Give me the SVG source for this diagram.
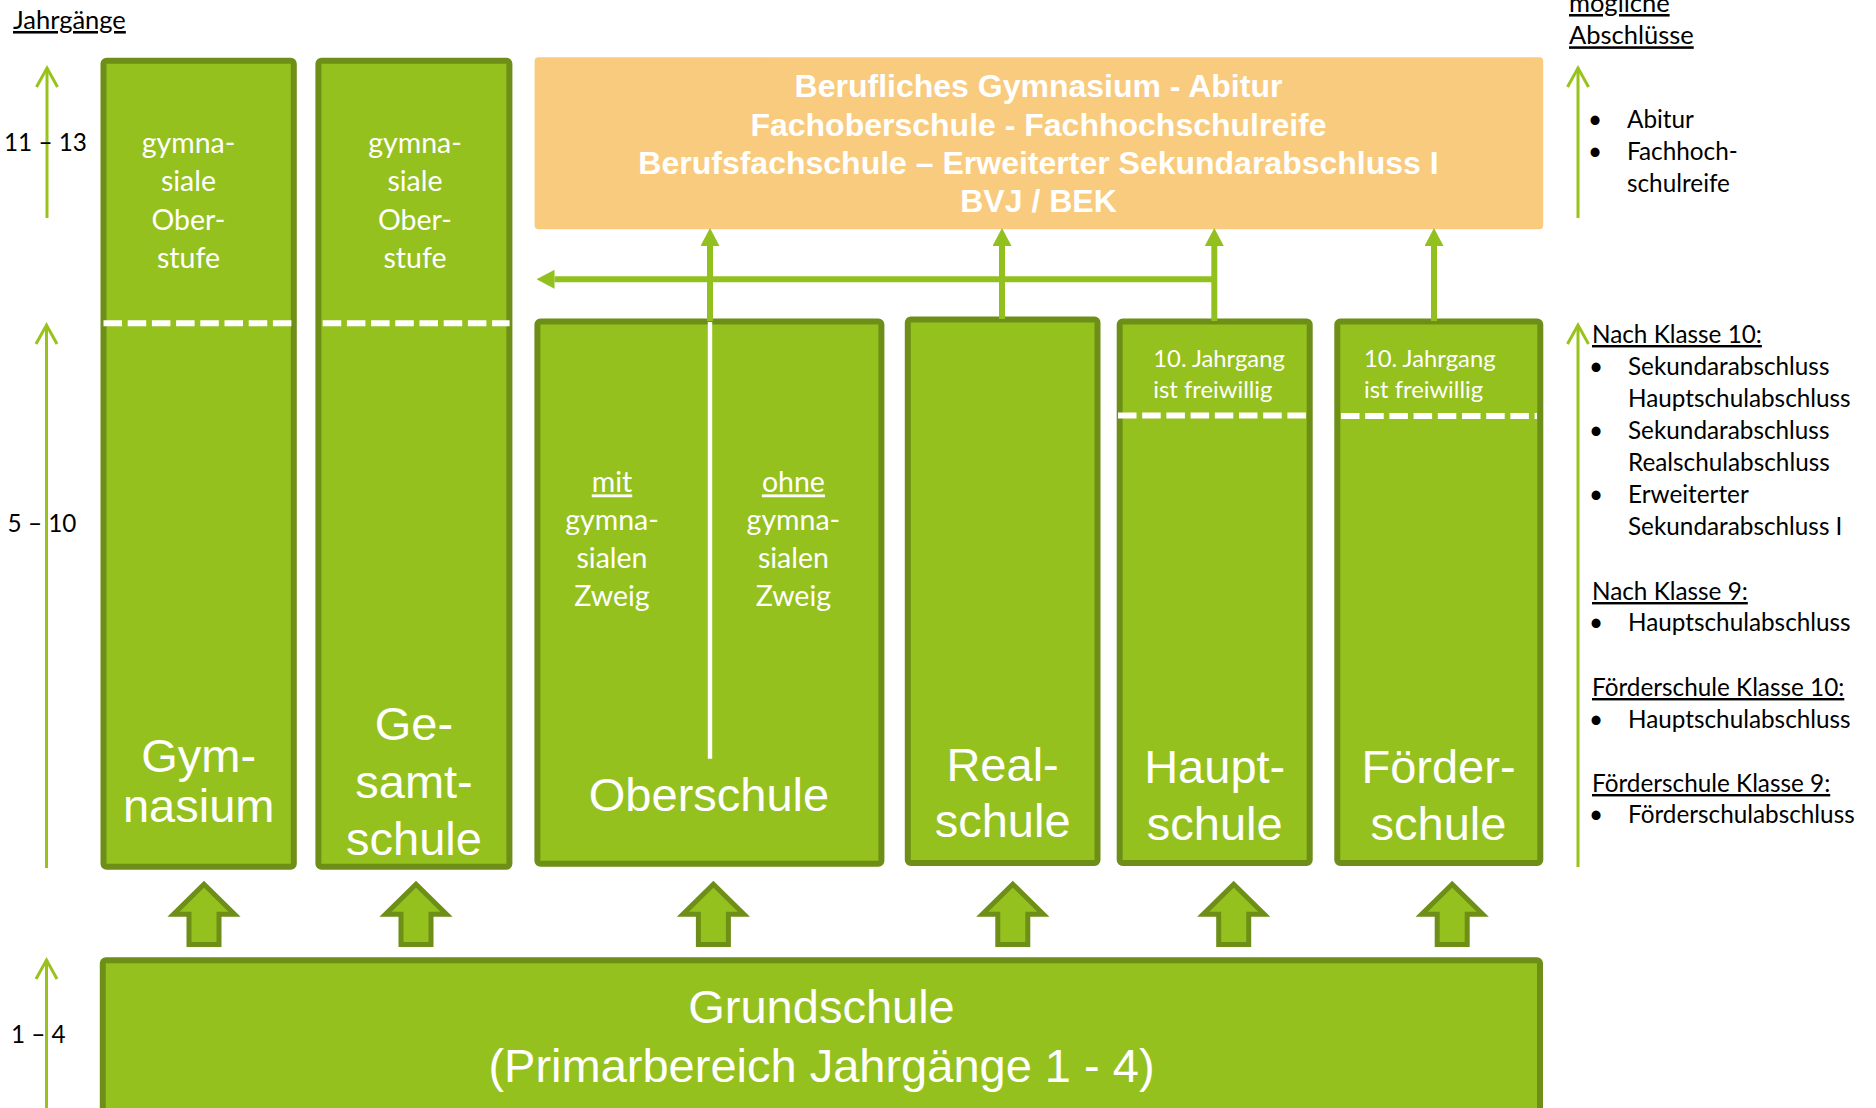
<svg xmlns="http://www.w3.org/2000/svg" xmlns:xlink="http://www.w3.org/1999/xlink" width="1876" height="1108" viewBox="0 0 1876 1108">
<style>
.box{fill:#95C11F;stroke:#6E8F17;stroke-width:6}
.dash{stroke:#fff;stroke-width:6;stroke-dasharray:18.5 5.7;fill:none}
.big{font-family:"Liberation Sans",Arial,sans-serif;fill:#fff;text-anchor:middle;font-size:47px}
.sm{font-family:Lato,"Liberation Sans",sans-serif;fill:#fff;text-anchor:middle;font-size:28.5px}
.note{font-family:Lato,"Liberation Sans",sans-serif;fill:#fff;font-size:23.8px}
.lbl{font-family:Lato,"Liberation Sans",sans-serif;fill:#000;font-size:24.3px}
.ttl{font-family:Lato,"Liberation Sans",sans-serif;fill:#000;font-size:25.5px;text-decoration:underline}
.u{text-decoration:underline}
.orange{font-family:"Liberation Sans",Arial,sans-serif;font-weight:bold;fill:#fff;text-anchor:middle;font-size:32px}
.axis{stroke:#99C31C;stroke-width:3;fill:none;marker-end:url(#chev)}
.conn{stroke:#92C01F;stroke-width:6;fill:none;marker-end:url(#tri)}
.blk{fill:#95C11F;stroke:#6E8F17;stroke-width:5;stroke-linejoin:miter}
</style>
<defs>
<marker id="tri" markerUnits="userSpaceOnUse" viewBox="0 -9.5 18 19" refX="0" refY="0" markerWidth="18" markerHeight="19" orient="auto">
<path d="M0,-9.5 L18,0 L0,9.5 Z" fill="#92C01F"/>
</marker>
<marker id="chev" markerUnits="userSpaceOnUse" viewBox="-22 -12 24 24" refX="0" refY="0" markerWidth="24" markerHeight="24" orient="auto" overflow="visible">
<path d="M-19,-10.5 L0,0 L-19,10.5" fill="none" stroke="#99C31C" stroke-width="3"/>
</marker>
<path id="blockArrow" class="blk" d="M0,884.2 L30.5,914.2 L15,914.2 L15,944.5 L-15,944.5 L-15,914.2 L-30.5,914.2 Z"/>
</defs>
<rect width="1876" height="1108" fill="#fff"/>

<g id="axes">
<text class="ttl" x="13" y="29">Jahrgänge</text>
<path class="axis" d="M47,218 L47,68"/>
<path class="axis" d="M46.5,868 L46.5,325"/>
<path class="axis" d="M46.5,1110 L46.5,960"/>
<text class="lbl" x="4" y="151" font-size="25">11 – 13</text>
<text class="lbl" x="7.6" y="532" font-size="25">5 – 10</text>
<text class="lbl" x="11" y="1043" font-size="25">1 – 4</text>
</g>

<g id="berufsbildung">
<rect x="534.6" y="57.3" width="1008.6" height="172" rx="4" fill="#F9CB7E"/>
<text class="orange" x="1038.5" y="97.3">Berufliches Gymnasium - Abitur</text>
<text class="orange" x="1038.5" y="135.6">Fachoberschule - Fachhochschulreife</text>
<text class="orange" x="1038.5" y="173.6">Berufsfachschule – Erweiterter Sekundarabschluss I</text>
<text class="orange" x="1038.5" y="211.7">BVJ / BEK</text>
</g>

<g id="gymnasium">
<rect class="box" x="103.5" y="60.7" width="190.3" height="806" rx="3"/>
<line class="dash" x1="103.5" y1="323.3" x2="292" y2="323.3"/>
<text class="sm"><tspan x="188.5" y="153">gymna-</tspan><tspan x="188.5" y="191.3">siale</tspan><tspan x="188.5" y="229.6">Ober-</tspan><tspan x="188.5" y="268">stufe</tspan></text>
<text class="big" font-size="41.5"><tspan x="198.7" y="771.5">Gym-</tspan><tspan x="198.7" y="821.7">nasium</tspan></text>
</g>

<g id="gesamtschule">
<rect class="box" x="318.4" y="60.7" width="191" height="806" rx="3"/>
<line class="dash" x1="322.7" y1="323.3" x2="509.6" y2="323.3"/>
<text class="sm"><tspan x="415" y="153">gymna-</tspan><tspan x="415" y="191.3">siale</tspan><tspan x="415" y="229.6">Ober-</tspan><tspan x="415" y="268">stufe</tspan></text>
<text class="big"><tspan x="414" y="740">Ge-</tspan><tspan x="414" y="797.5">samt-</tspan><tspan x="414" y="855">schule</tspan></text>
</g>

<g id="oberschule">
<rect class="box" x="537.4" y="321.5" width="344" height="542.3" rx="3"/>
<line x1="710" y1="322" x2="710" y2="758.7" stroke="#fff" stroke-width="4.4"/>
<text class="sm"><tspan x="612" y="492.4" class="u">mit</tspan><tspan x="612" y="530">gymna-</tspan><tspan x="612" y="568">sialen</tspan><tspan x="612" y="606">Zweig</tspan></text>
<text class="sm"><tspan x="793.4" y="492.4" class="u">ohne</tspan><tspan x="793.4" y="530">gymna-</tspan><tspan x="793.4" y="568">sialen</tspan><tspan x="793.4" y="606">Zweig</tspan></text>
<text class="big" x="709" y="810.5">Oberschule</text>
</g>

<g id="realschule">
<rect class="box" x="907.8" y="319.6" width="189.7" height="543.4" rx="3"/>
<text class="big"><tspan x="1002.6" y="781">Real-</tspan><tspan x="1002.6" y="837">schule</tspan></text>
</g>

<g id="hauptschule">
<rect class="box" x="1119.7" y="321.5" width="190" height="541.5" rx="3"/>
<text class="note"><tspan x="1153.3" y="367.3">10. Jahrgang</tspan><tspan x="1153.3" y="398">ist freiwillig</tspan></text>
<line class="dash" x1="1118" y1="415.5" x2="1307" y2="415.5"/>
<text class="big"><tspan x="1214.7" y="782.8">Haupt-</tspan><tspan x="1214.7" y="840">schule</tspan></text>
</g>

<g id="foerderschule">
<rect class="box" x="1337.3" y="321.5" width="203" height="541.5" rx="3"/>
<text class="note"><tspan x="1364" y="367.3">10. Jahrgang</tspan><tspan x="1364" y="398">ist freiwillig</tspan></text>
<line class="dash" x1="1341" y1="416" x2="1537" y2="416"/>
<text class="big"><tspan x="1438.5" y="782.8">Förder-</tspan><tspan x="1438.5" y="840">schule</tspan></text>
</g>

<g id="grundschule">
<rect class="box" x="102.8" y="960.3" width="1437.2" height="200" rx="3"/>
<text class="big" font-size="48.2"><tspan x="821.5" y="1023.3">Grundschule</tspan><tspan x="821.5" y="1081.7">(Primarbereich Jahrgänge 1 - 4)</tspan></text>
</g>

<g id="connectors">
<path class="conn" d="M710,321 L710,246"/>
<path class="conn" d="M1002,319 L1002,246"/>
<path class="conn" d="M1214.3,321 L1214.3,246"/>
<path class="conn" d="M1434,321 L1434,246"/>
<path class="conn" d="M1217,279.3 L554.5,279.3"/>
<use xlink:href="#blockArrow" x="204"/>
<use xlink:href="#blockArrow" x="416"/>
<use xlink:href="#blockArrow" x="713.4"/>
<use xlink:href="#blockArrow" x="1012.8"/>
<use xlink:href="#blockArrow" x="1233.7"/>
<use xlink:href="#blockArrow" x="1452.2"/>
</g>

<g id="abschluesse">
<text class="ttl" x="1569" y="12">mögliche</text>
<text class="ttl" x="1569" y="44.3">Abschlüsse</text>
<path class="axis" d="M1578,218 L1578,68"/>
<path class="axis" d="M1578,867 L1578,325"/>
<text class="lbl" x="1588" y="128">•</text><text class="lbl" x="1627" y="128">Abitur</text>
<text class="lbl" x="1588" y="160">•</text><text class="lbl" x="1627" y="160">Fachhoch-</text>
<text class="lbl" x="1627" y="192">schulreife</text>
<text class="lbl u" x="1592" y="343">Nach Klasse 10:</text>
<text class="lbl" x="1589" y="375">•</text><text class="lbl" x="1628" y="375">Sekundarabschluss</text>
<text class="lbl" x="1628" y="407">Hauptschulabschluss</text>
<text class="lbl" x="1589" y="439">•</text><text class="lbl" x="1628" y="439">Sekundarabschluss</text>
<text class="lbl" x="1628" y="471">Realschulabschluss</text>
<text class="lbl" x="1589" y="503">•</text><text class="lbl" x="1628" y="503">Erweiterter</text>
<text class="lbl" x="1628" y="535">Sekundarabschluss I</text>
<text class="lbl u" x="1592" y="600">Nach Klasse 9:</text>
<text class="lbl" x="1589" y="631">•</text><text class="lbl" x="1628" y="631">Hauptschulabschluss</text>
<text class="lbl u" x="1592" y="696">Förderschule Klasse 10:</text>
<text class="lbl" x="1589" y="728">•</text><text class="lbl" x="1628" y="728">Hauptschulabschluss</text>
<text class="lbl u" x="1592" y="792">Förderschule Klasse 9:</text>
<text class="lbl" x="1589" y="823">•</text><text class="lbl" x="1628" y="823">Förderschulabschluss</text>
</g>
</svg>
